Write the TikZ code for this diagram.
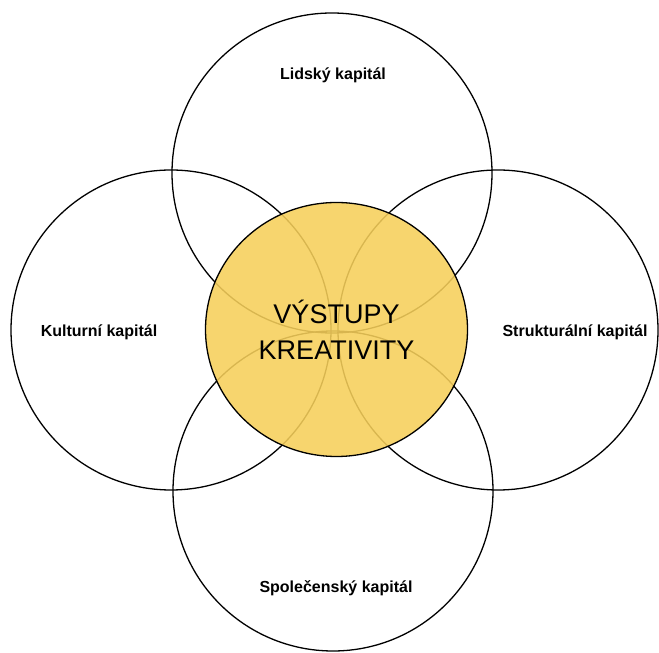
\documentclass[tikz,border=0pt]{standalone}
\usepackage{fontspec}
\setmainfont{Liberation Sans}
\usetikzlibrary{shapes.geometric}
\definecolor{kreayellow}{RGB}{246,207,90}
\tikzset{
  ring/.style={circle, draw=black, line width=1.3pt, minimum size=320pt, inner sep=0pt},
  core/.style={ellipse, draw=black, line width=1.3pt, fill=kreayellow, fill opacity=0.88, draw opacity=1, text opacity=1, minimum width=262pt, minimum height=254pt, inner sep=0pt, align=center, font=\fontsize{27}{36}\selectfont},
  lbl/.style={font=\fontsize{16}{19}\selectfont\bfseries, inner sep=0pt}
}
\begin{document}
\begin{tikzpicture}[x=1pt,y=1pt]
\useasboundingbox (0,0) rectangle (659,653);
\node[ring] (top) at (332,480) {};
\node[ring] (left) at (171,323) {};
\node[ring] (right) at (498,323) {};
\node[ring] (bottom) at (333,162) {};
\node[core] (center) at (336.5,323.5) {VÝSTUPY\\KREATIVITY};
\node[lbl] (ltop) at (333,578) {Lidský kapitál};
\node[lbl] (lleft) at (99,321) {Kulturní kapitál};
\node[lbl] (lright) at (575,321) {Strukturální kapitál};
\node[lbl] (lbottom) at (336,65) {Společenský kapitál};
\end{tikzpicture}
\end{document}
